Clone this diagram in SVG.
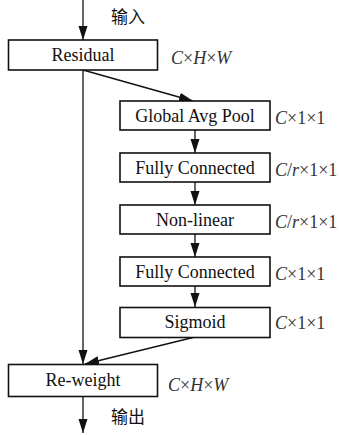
<svg xmlns="http://www.w3.org/2000/svg" width="339" height="435" viewBox="0 0 339 435">
<style>
.box rect{fill:#fff;stroke:#111;stroke-width:1.6}
.lbl{font-family:'Liberation Serif','Times New Roman',serif;font-size:18px;fill:#111;text-anchor:middle}
.dim{font-family:'Liberation Serif','Times New Roman',serif;font-size:18px;fill:#333}
.dim .i{font-style:italic}
.cjk{font-family:'Noto Sans CJK SC',sans-serif;font-size:17px;fill:#111}
.conn line{stroke:#111;stroke-width:1.3;fill:none;marker-end:url(#ah)}
</style>
<defs>
<marker id="ah" markerUnits="userSpaceOnUse" markerWidth="15" markerHeight="10" refX="14" refY="4.5" orient="auto">
<path d="M0,0 L14,4.5 L0,9 z" fill="#111"/>
</marker>
</defs>
<g id="connectors" class="conn">
<line x1="83" y1="0" x2="83" y2="40"/>
<line x1="83" y1="70" x2="83" y2="364"/>
<line x1="83" y1="70" x2="193" y2="101"/>
<line x1="195" y1="130" x2="195" y2="153"/>
<line x1="195" y1="182" x2="195" y2="205"/>
<line x1="195" y1="234" x2="195" y2="257"/>
<line x1="195" y1="286" x2="195" y2="307"/>
<line x1="195" y1="337" x2="85" y2="364"/>
<line x1="83" y1="396" x2="83" y2="433"/>
</g>
<text class="cjk" x="111" y="23">输入</text>
<text class="cjk" x="111" y="423">输出</text>
<g id="residual" class="box">
<rect x="8.5" y="40" width="149" height="30"/>
<text class="lbl" x="83" y="61">Residual</text>
</g>
<text class="dim" x="171" y="64"><tspan class="i">C</tspan>×<tspan class="i">H</tspan>×<tspan class="i">W</tspan></text>
<g id="gap" class="box">
<rect x="120" y="101" width="150" height="29"/>
<text class="lbl" x="195" y="121.5">Global Avg Pool</text>
</g>
<text class="dim" x="275" y="124"><tspan class="i">C</tspan>×1×1</text>
<g id="fc1" class="box">
<rect x="120" y="153" width="150" height="29"/>
<text class="lbl" x="195" y="173.5">Fully Connected</text>
</g>
<text class="dim" x="275" y="176"><tspan class="i">C</tspan>/<tspan class="i">r</tspan>×1×1</text>
<g id="nonlinear" class="box">
<rect x="120" y="205" width="150" height="29"/>
<text class="lbl" x="195" y="225.5">Non-linear</text>
</g>
<text class="dim" x="275" y="228"><tspan class="i">C</tspan>/<tspan class="i">r</tspan>×1×1</text>
<g id="fc2" class="box">
<rect x="120" y="257" width="150" height="29"/>
<text class="lbl" x="195" y="277.5">Fully Connected</text>
</g>
<text class="dim" x="275" y="279.5"><tspan class="i">C</tspan>×1×1</text>
<g id="sigmoid" class="box">
<rect x="120" y="307.5" width="150" height="30"/>
<text class="lbl" x="195" y="328">Sigmoid</text>
</g>
<text class="dim" x="275" y="329"><tspan class="i">C</tspan>×1×1</text>
<g id="reweight" class="box">
<rect x="8.5" y="364.5" width="149" height="32"/>
<text class="lbl" x="83" y="386">Re-weight</text>
</g>
<text class="dim" x="168" y="391"><tspan class="i">C</tspan>×<tspan class="i">H</tspan>×<tspan class="i">W</tspan></text>
</svg>
